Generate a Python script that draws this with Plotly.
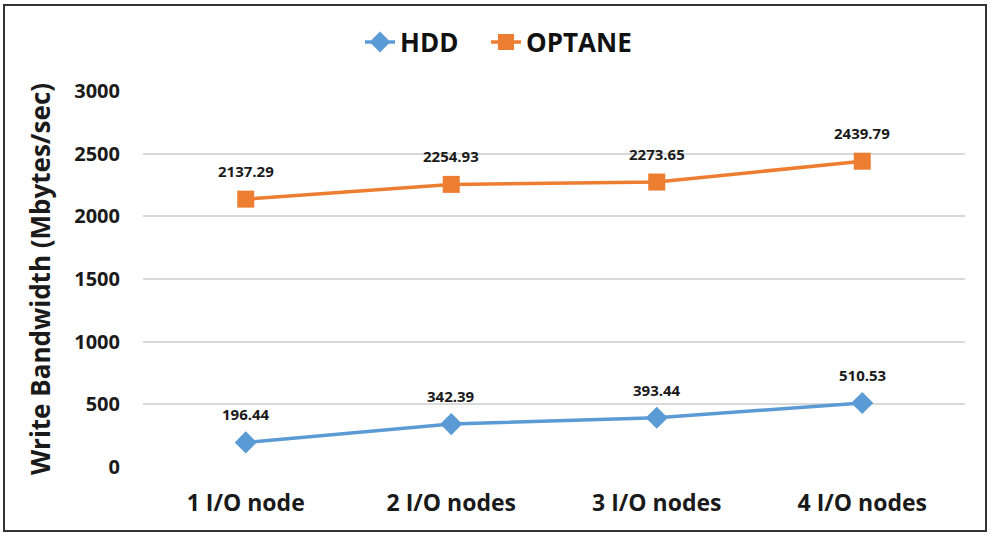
import plotly.graph_objects as go

categories = ["1 I/O node", "2 I/O nodes", "3 I/O nodes", "4 I/O nodes"]
hdd = [196.44, 342.39, 393.44, 510.53]
optane = [2137.29, 2254.93, 2273.65, 2439.79]
y_ticks = [0, 500, 1000, 1500, 2000, 2500, 3000]

FONT = "Open Sans"
fig = go.Figure()
fig.add_trace(go.Scatter(
    x=categories, y=hdd, name="HDD", mode="lines+markers", legend="legend",
    line=dict(color="#5B9BD5", width=3.5),
    marker=dict(symbol="diamond", size=17, color="#5B9BD5"),
))
fig.add_trace(go.Scatter(
    x=categories, y=optane, name="OPTANE", mode="lines+markers", legend="legend2",
    line=dict(color="#ED7D31", width=3.5),
    marker=dict(symbol="square", size=17, color="#ED7D31"),
))

annotations = []
for series in (hdd, optane):
    for c, v in zip(categories, series):
        annotations.append(dict(
            x=c, y=v, xref="x", yref="y", text=f"{v:.2f}", showarrow=False,
            yshift=28, font=dict(family=FONT, size=15, color="#1a1a1a", weight="bold")))

legend_font = dict(family=FONT, size=26, color="#111", weight="bold")
fig.update_layout(
    width=994, height=540,
    margin=dict(l=143, r=29, t=91, b=73),
    paper_bgcolor="white", plot_bgcolor="white",
    font=dict(family=FONT, color="#1a1a1a"),
    showlegend=True,
    annotations=annotations,
    legend=dict(orientation="h", x=(360 - 143) / 822, xanchor="left", y=1.13, yanchor="middle",
                font=legend_font, bgcolor="rgba(0,0,0,0)"),
    legend2=dict(orientation="h", x=(486 - 143) / 822, xanchor="left", y=1.13, yanchor="middle",
                 font=legend_font, bgcolor="rgba(0,0,0,0)"),
    xaxis=dict(range=[-0.5, 3.5], showgrid=False, showline=False, ticks="", ticklabelstandoff=20,
               tickfont=dict(family=FONT, size=23, color="#1a1a1a", weight="bold")),
    yaxis=dict(range=[0, 3000], tickvals=y_ticks, showgrid=True, gridcolor="#D9D9D9",
               gridwidth=2, zeroline=False, showline=False, ticks="", ticklabelstandoff=22,
               tickfont=dict(family=FONT, size=20, color="#1a1a1a", weight="bold"),
               title=dict(text="Write Bandwidth (Mbytes/sec)", standoff=16,
                          font=dict(family=FONT, size=26, color="#1a1a1a", weight="bold"))),
    shapes=[dict(type="rect", xref="paper", yref="paper",
                 x0=(4 - 143) / 822, x1=(986 - 143) / 822,
                 y0=(467 - 531) / 376, y1=(467 - 5) / 376,
                 line=dict(color="#333", width=2), fillcolor="rgba(0,0,0,0)")],
)
fig.write_html("out.html")
